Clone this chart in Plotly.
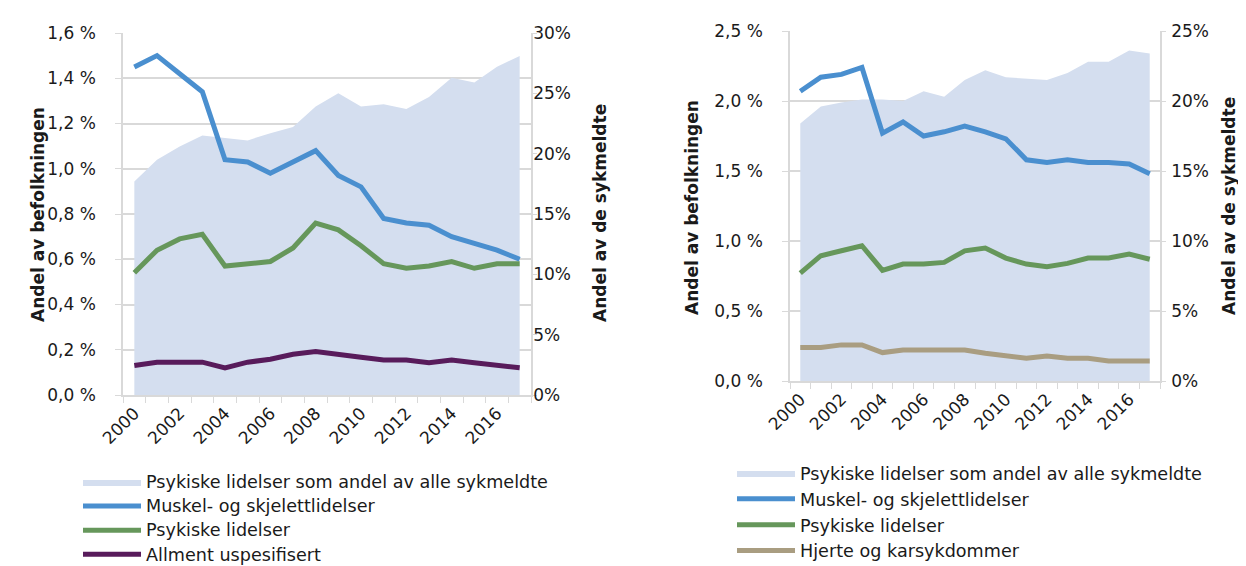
import plotly.graph_objects as go

years = list(range(2000, 2018))
xtick_vals = [2000, 2002, 2004, 2006, 2008, 2010, 2012, 2014, 2016]
xtick_text = [str(v) for v in xtick_vals]

# Left chart
left_area = [17.7, 19.5, 20.6, 21.5, 21.3, 21.1, 21.7, 22.2, 23.9, 25.0, 23.9, 24.1, 23.7, 24.7, 26.3, 25.9, 27.2, 28.1]
left_muskel = [1.45, 1.50, 1.42, 1.34, 1.04, 1.03, 0.98, 1.03, 1.08, 0.97, 0.92, 0.78, 0.76, 0.75, 0.70, 0.67, 0.64, 0.60]
left_psyk = [0.54, 0.64, 0.69, 0.71, 0.57, 0.58, 0.59, 0.65, 0.76, 0.73, 0.66, 0.58, 0.56, 0.57, 0.59, 0.56, 0.58, 0.58]
left_allment = [0.13, 0.145, 0.145, 0.145, 0.12, 0.145, 0.158, 0.18, 0.192, 0.177, 0.167, 0.155, 0.155, 0.143, 0.155, 0.143, 0.133, 0.12]

# Right chart
right_area = [18.4, 19.6, 19.9, 20.1, 20.1, 20.0, 20.7, 20.3, 21.5, 22.2, 21.7, 21.6, 21.5, 22.0, 22.8, 22.8, 23.6, 23.4]
right_muskel = [2.07, 2.17, 2.19, 2.24, 1.77, 1.85, 1.75, 1.78, 1.82, 1.78, 1.73, 1.58, 1.56, 1.58, 1.56, 1.56, 1.55, 1.48]
right_psyk = [0.77, 0.895, 0.93, 0.966, 0.79, 0.835, 0.835, 0.847, 0.93, 0.95, 0.878, 0.835, 0.816, 0.84, 0.878, 0.878, 0.906, 0.87]
right_hjerte = [0.24, 0.24, 0.258, 0.258, 0.203, 0.222, 0.222, 0.222, 0.222, 0.198, 0.181, 0.162, 0.179, 0.162, 0.162, 0.143, 0.143, 0.143]

left_ticks = [0, 0.2, 0.4, 0.6, 0.8, 1.0, 1.2, 1.4, 1.6]
left_ticktext = ["0,0 %", "0,2 %", "0,4 %", "0,6 %", "0,8 %", "1,0 %", "1,2 %", "1,4 %", "1,6 %"]
left_r_ticks = [0, 5, 10, 15, 20, 25, 30]
left_r_text = ["0%", "5%", "10%", "15%", "20%", "25%", "30%"]
right_ticks = [0, 0.5, 1.0, 1.5, 2.0, 2.5]
right_ticktext = ["0,0 %", "0,5 %", "1,0 %", "1,5 %", "2,0 %", "2,5 %"]
right_r_ticks = [0, 5, 10, 15, 20, 25]
right_r_text = ["0%", "5%", "10%", "15%", "20%", "25%"]

names_left = ["Psykiske lidelser som andel av alle sykmeldte", "Muskel- og skjelettlidelser",
              "Psykiske lidelser", "Allment uspesifisert"]
names_right = ["Psykiske lidelser som andel av alle sykmeldte", "Muskel- og skjelettlidelser",
               "Psykiske lidelser", "Hjerte og karsykdommer"]

AREA = "#D4DEEF"
BLUE = "#4A8FCF"
GREEN = "#66975B"
PURPLE = "#581B5B"
TAN = "#A99D81"
GRID = "#D9D9D9"
TXT = "#1A1A1A"
TICKFONT = dict(family="DejaVu Sans", size=17, color=TXT)
TITLEFONT = dict(family="DejaVu Sans", size=17, color=TXT)
W, H = 1246, 566


def big(name):
    return '<span style="font-size:17.6px">' + name + '</span>'


fig = go.Figure()

# Left chart traces
fig.add_trace(go.Scatter(x=years, y=left_area, xaxis="x", yaxis="y", mode="lines", fill="tozeroy",
                         fillcolor=AREA, line=dict(width=0, color=AREA), name=big(names_left[0]),
                         legend="legend"))
for vals, col, nm in [(left_muskel, BLUE, names_left[1]), (left_psyk, GREEN, names_left[2]),
                      (left_allment, PURPLE, names_left[3])]:
    fig.add_trace(go.Scatter(x=years, y=vals, xaxis="x", yaxis="y2", mode="lines",
                             line=dict(width=5, color=col), name=big(nm), legend="legend"))

# Right chart traces
fig.add_trace(go.Scatter(x=years, y=right_area, xaxis="x2", yaxis="y3", mode="lines", fill="tozeroy",
                         fillcolor=AREA, line=dict(width=0, color=AREA), name=names_right[0],
                         legend="legend2"))
for vals, col, nm in [(right_muskel, BLUE, names_right[1]), (right_psyk, GREEN, names_right[2]),
                      (right_hjerte, TAN, names_right[3])]:
    fig.add_trace(go.Scatter(x=years, y=vals, xaxis="x2", yaxis="y4", mode="lines",
                             line=dict(width=5, color=col), name=nm, legend="legend2"))


def xax(domain, anchor):
    return dict(domain=domain, anchor=anchor, range=[1999.5, 2017.5], tickmode="array",
                tickvals=xtick_vals, ticktext=xtick_text, tickangle=-45, tickfont=TICKFONT,
                showline=True, linecolor=GRID, linewidth=1.5, showgrid=False, zeroline=False,
                ticks="outside", ticklen=0, tickcolor=GRID, automargin=False,
                minor=dict(tickmode="linear", tick0=1999.5, dtick=1, ticks="outside", ticklen=6,
                           tickcolor=GRID, showgrid=False))


def yarea(domain, anchor, rng, tv, tt, standoff):
    return dict(domain=domain, anchor=anchor, side="right", range=rng, tickmode="array",
                tickvals=tv, ticktext=tt, tickfont=TICKFONT, showgrid=False, zeroline=False,
                showline=True, linecolor=GRID, linewidth=1.5, ticks="outside", ticklen=4,
                tickcolor=GRID, automargin=False, ticklabelstandoff=standoff)


def yline(domain, anchor, over, rng, tv, tt):
    return dict(domain=domain, anchor=anchor, overlaying=over, side="left", range=rng, tickmode="array",
                tickvals=tv, ticktext=tt, tickfont=TICKFONT, showgrid=True, gridcolor=GRID, gridwidth=1.5,
                zeroline=False, showline=True, linecolor=GRID, linewidth=1.5, ticks="outside",
                ticklen=6, tickcolor=GRID, automargin=False, ticklabelstandoff=16)


ld = [115 / W, 523 / W]
ly = [(H - 387) / H, (H - 25) / H]
rd = [782 / W, 1152 / W]
ry = [(H - 373) / H, (H - 23) / H]


def ann(text, x, y):
    return dict(text="<b>" + text + "</b>", x=x / W, y=(H - y) / H, xref="paper", yref="paper",
                textangle=-90, showarrow=False, font=TITLEFONT)


fig.update_layout(
    width=W, height=H, autosize=False,
    margin=dict(l=0, r=0, t=0, b=0, autoexpand=False),
    paper_bgcolor="white", plot_bgcolor="white",
    xaxis=xax(ld, "y"),
    yaxis=yarea(ly, "x", [0, 30], left_r_ticks, left_r_text, -7),
    yaxis2=yline(ly, "x", "y", [0, 1.6], left_ticks, left_ticktext),
    xaxis2=xax(rd, "y3"),
    yaxis3=yarea(ry, "x2", [0, 25], right_r_ticks, right_r_text, 2),
    yaxis4=yline(ry, "x2", "y3", [0, 2.5], right_ticks, right_ticktext),
    legend=dict(x=70 / W, y=(H - 457) / H, xanchor="left", yanchor="top", traceorder="normal",
                font=dict(family="DejaVu Sans", size=16.2, color=TXT), bgcolor="rgba(0,0,0,0)",
                tracegroupgap=0, itemwidth=58),
    legend2=dict(x=724 / W, y=(H - 447) / H, xanchor="left", yanchor="top", traceorder="normal",
                 font=dict(family="DejaVu Sans", size=17.6, color=TXT), bgcolor="rgba(0,0,0,0)",
                 tracegroupgap=0, itemwidth=58),
    annotations=[
        ann("Andel av befolkningen", 18, 207),
        ann("Andel av de sykmeldte", 592, 205),
        ann("Andel av befolkningen", 684, 200),
        ann("Andel av de sykmeldte", 1233, 198),
    ],
)

fig.write_html("out.html")
